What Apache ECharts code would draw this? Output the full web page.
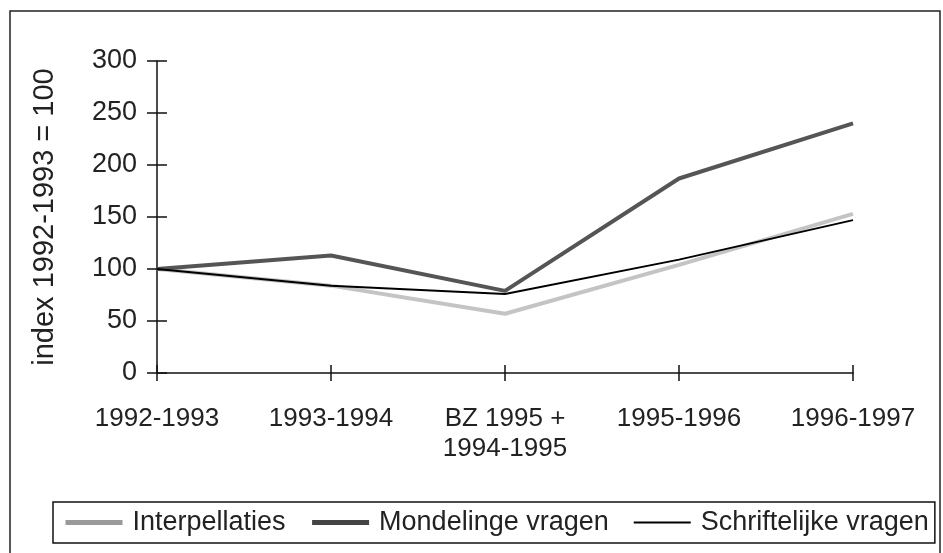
<!DOCTYPE html>
<html>
<head>
<meta charset="utf-8">
<script src="https://cdn.jsdelivr.net/npm/echarts@6/dist/echarts.min.js"></script>
<style>
  html, body { margin: 0; padding: 0; background: #fff; }
  #main { width: 943px; height: 553px; }
</style>
</head>
<body>
<div id="main"></div>
<script>
// values (index 1992-1993 = 100)
const categories = ['1992-1993', '1993-1994', 'BZ 1995 +\n1994-1995', '1995-1996', '1996-1997'];
const interpellaties = [100, 84, 57, 104, 153];
const mondelinge = [100, 113, 79, 187, 240];
const schriftelijk = [100, 84, 76, 109, 147];
const yTicks = [0, 50, 100, 150, 200, 250, 300];

const font = 'Liberation Sans';
const myChart = echarts.init(document.getElementById('main'));

const option = {
  backgroundColor: '#fff',
  textStyle: { fontFamily: font },
  // outer frame of the scanned figure
  graphic: [{
    type: 'rect',
    shape: { x: 10, y: 11, width: 930, height: 600 },
    style: { fill: 'none', stroke: '#222', lineWidth: 1.5 },
    silent: true,
  }],
  grid: { left: 157, right: 90, top: 61, bottom: 180 },
  legend: {
    left: 53,
    top: 502,
    width: 900,
    padding: [7, 6, 7, 10],
    borderColor: '#111',
    borderWidth: 1.5,
    itemWidth: 57,
    itemHeight: 3,
    itemGap: 24,
    itemStyle: { opacity: 0 },
    textStyle: { fontFamily: font, fontSize: 27, color: '#222', padding: [0, 0, 0, 5] },
    data: [
      { name: 'Interpellaties', lineStyle: { color: '#9a9a9a', width: 5 } },
      { name: 'Mondelinge vragen', lineStyle: { color: '#444', width: 5 } },
      { name: 'Schriftelijke vragen', lineStyle: { color: '#000', width: 2 } },
    ],
  },
  xAxis: [{
    type: 'category',
    boundaryGap: false,
    data: categories,
    axisLine: { lineStyle: { color: '#111', width: 1.5 } },
    axisTick: { show: true, length: 8, lineStyle: { color: '#111', width: 1.5 } },
    axisLabel: { fontFamily: font, fontSize: 26, color: '#222', margin: 31, lineHeight: 30 },
  }, {
    type: 'category',
    boundaryGap: false,
    data: categories,
    position: 'bottom',
    axisLine: { show: false },
    axisTick: { show: true, inside: true, length: 8, lineStyle: { color: '#111', width: 1.5 } },
    axisLabel: { show: false },
  }],
  yAxis: [{
    type: 'value',
    min: 0,
    max: 300,
    interval: 50,
    name: 'index 1992-1993 = 100',
    nameLocation: 'middle',
    nameGap: 98,
    nameTextStyle: { fontFamily: font, fontSize: 29, color: '#222' },
    axisLine: { show: true, lineStyle: { color: '#111', width: 1.5 } },
    axisTick: { show: true, length: 10, lineStyle: { color: '#111', width: 1.5 } },
    axisLabel: {
      fontFamily: font, fontSize: 27, color: '#222', margin: 20,
      formatter: (v) => (yTicks.includes(v) ? String(v) : ''),
    },
    splitLine: { show: false },
  }, {
    type: 'value',
    min: 0,
    max: 300,
    interval: 50,
    position: 'left',
    axisLine: { show: false },
    axisTick: { show: true, inside: true, length: 10, lineStyle: { color: '#111', width: 1.5 } },
    axisLabel: { show: false },
    splitLine: { show: false },
  }],
  series: [
    {
      name: 'Interpellaties',
      type: 'line',
      data: interpellaties,
      symbol: 'none',
      color: '#c4c4c4',
      lineStyle: { color: '#c4c4c4', width: 4 },
      z: 2,
    },
    {
      name: 'Mondelinge vragen',
      type: 'line',
      data: mondelinge,
      symbol: 'none',
      color: '#555',
      lineStyle: { color: '#555', width: 4 },
      z: 3,
    },
    {
      name: 'Schriftelijke vragen',
      type: 'line',
      data: schriftelijk,
      symbol: 'none',
      color: '#000',
      lineStyle: { color: '#000', width: 2 },
      z: 4,
    },
  ],
};

myChart.setOption(option);
</script>
</body>
</html>
